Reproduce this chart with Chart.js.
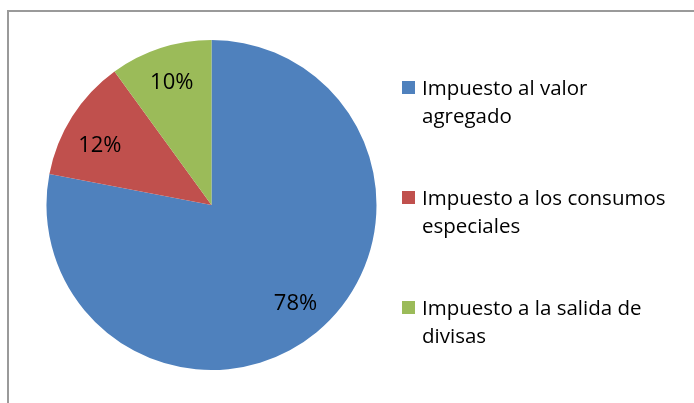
<!DOCTYPE html>
<html>
<head>
<meta charset="utf-8">
<script src="https://cdn.jsdelivr.net/npm/chart.js@4.4.1/dist/chart.umd.min.js"></script>
<style>
  html, body { margin: 0; padding: 0; background: #fff; overflow: hidden; }
  #wrap { position: relative; width: 694px; height: 403px; }
  #frame { position: absolute; left: 7px; top: 10px; width: 800px; height: 500px; border: 2px solid #9a9a9a; box-sizing: border-box; }
  canvas { position: absolute; left: 0; top: 0; }
</style>
</head>
<body>
<div id="wrap">
  <div id="frame"></div>
  <canvas id="pieChart" width="694" height="403"></canvas>
</div>
<script>
// ===== DATA =====
const categories = [
  ["Impuesto al valor", "agregado"],
  ["Impuesto a los consumos", "especiales"],
  ["Impuesto a la salida de", "divisas"]
];
const shares = [78, 12, 10];
const colors = ["#4F81BD", "#C0504D", "#9BBB59"];
// small nudges for the percent labels (px), like Excel's "best fit"
const labelNudge = [[2, 0], [-3, 10], [0, 0]];

const FONT = "'Open Sans', sans-serif";

// ===== PERCENT LABELS =====
const pctLabels = {
  id: "pctLabels",
  afterDatasetsDraw(chart) {
    const ctx = chart.ctx;
    const total = shares.reduce((a, b) => a + b, 0);
    ctx.save();
    ctx.font = "22px " + FONT;
    ctx.fillStyle = "#000";
    ctx.textAlign = "center";
    ctx.textBaseline = "middle";
    chart.getDatasetMeta(0).data.forEach((arc, i) => {
      const p = arc.getProps(["x", "y", "startAngle", "endAngle", "outerRadius"], true);
      const mid = (p.startAngle + p.endAngle) / 2;
      const r = p.outerRadius * 0.78;
      const txt = Math.round(shares[i] / total * 100) + "%";
      ctx.fillText(txt, p.x + Math.cos(mid) * r + labelNudge[i][0], p.y + Math.sin(mid) * r + labelNudge[i][1]);
    });
    ctx.restore();
  }
};

// ===== LEGEND =====
const sideLegend = {
  id: "sideLegend",
  afterDraw(chart) {
    const ctx = chart.ctx;
    ctx.save();
    ctx.font = "20.5px " + FONT;
    ctx.textBaseline = "alphabetic";
    ctx.textAlign = "left";
    chart.data.labels.forEach((lines, i) => {
      const top = 81 + i * 110;
      ctx.fillStyle = colors[i];
      ctx.fillRect(402, top, 13, 13);
      ctx.fillStyle = "#000";
      lines.forEach((line, j) => ctx.fillText(line, 422, top + 14 + j * 28));
    });
    ctx.restore();
  }
};

// ===== CHART =====
new Chart(document.getElementById("pieChart").getContext("2d"), {
  type: "pie",
  data: {
    labels: categories,
    datasets: [{ data: shares, backgroundColor: colors, borderWidth: 0 }]
  },
  options: {
    responsive: false,
    animation: false,
    layout: { padding: { left: 46.5, right: 317.5, top: 40, bottom: 33 } },
    plugins: { legend: { display: false }, tooltip: { enabled: false } }
  },
  plugins: [pctLabels, sideLegend]
});
</script>
</body>
</html>
